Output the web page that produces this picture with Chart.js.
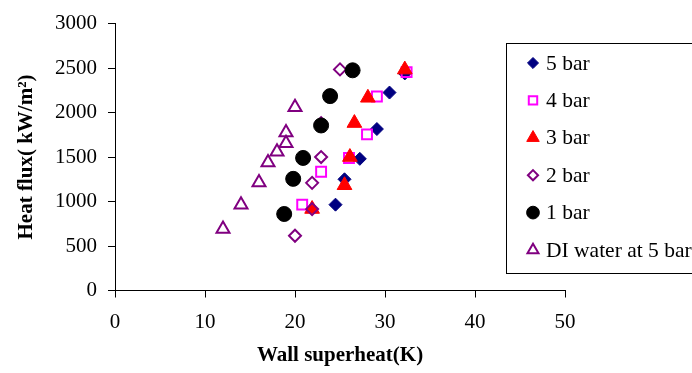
<!DOCTYPE html>
<html>
<head>
<meta charset="utf-8">
<script src="https://cdn.jsdelivr.net/npm/chart.js"></script>
<style>
  body { margin: 0; background: #fff; }
  canvas { display: block; }
</style>
</head>
<body>
<canvas id="chart" width="692" height="373"></canvas>
<script>
// Data (x = wall superheat K, y = heat flux kW/m2)
const seriesNames = ['5 bar', '4 bar', '3 bar', '2 bar', '1 bar', 'DI water at 5 bar'];

const superheat5bar = [24.5, 25.5, 27.2, 29.1, 30.5, 32.2];
const flux5bar = [965, 1250, 1480, 1815, 2225, 2440];

const superheat4bar = [20.8, 22.9, 26.0, 28.0, 29.1, 32.4];
const flux4bar = [965, 1335, 1490, 1755, 2180, 2455];

const superheat3bar = [21.9, 25.5, 26.1, 26.6, 28.1, 32.2];
const flux3bar = [916, 1183, 1500, 1882, 2166, 2483];

const superheat2bar = [20.0, 21.9, 21.9, 22.9, 22.9, 25.0];
const flux2bar = [615, 915, 1210, 1500, 1880, 2485];

const superheat1bar = [18.8, 19.8, 20.9, 22.9, 23.9, 26.4];
const flux1bar = [860, 1255, 1490, 1855, 2185, 2475];

const superheatDI = [12, 14, 16, 17, 18, 19, 19, 20];
const fluxDI = [690, 965, 1215, 1440, 1560, 1655, 1775, 2060];

const xTicks = [0, 10, 20, 30, 40, 50];
const yTicks = [0, 500, 1000, 1500, 2000, 2500, 3000];

function toPoints(xs, ys) {
    return xs.map((x, i) => ({ x: x, y: ys[i] }));
}

// marker styles, one per series
const markers = [
    { pointStyle: 'rectRot', radius: 6.5, bg: '#000080', border: '#000080', bw: 1 },
    { pointStyle: 'rect', radius: 7, bg: 'rgba(0,0,0,0)', border: '#FF00FF', bw: 2 },
    { pointStyle: 'triangle', radius: 8.5, bg: '#FF0000', border: '#FF0000', bw: 1 },
    { pointStyle: 'rectRot', radius: 6, bg: 'rgba(0,0,0,0)', border: '#800080', bw: 2 },
    { pointStyle: 'circle', radius: 7.5, bg: '#000000', border: '#000000', bw: 1 },
    { pointStyle: 'triangle', radius: 7.5, bg: 'rgba(0,0,0,0)', border: '#800080', bw: 2 }
];

const seriesData = [
    toPoints(superheat5bar, flux5bar),
    toPoints(superheat4bar, flux4bar),
    toPoints(superheat3bar, flux3bar),
    toPoints(superheat2bar, flux2bar),
    toPoints(superheat1bar, flux1bar),
    toPoints(superheatDI, fluxDI)
];

const datasets = seriesNames.map((name, i) => ({
    label: name,
    data: seriesData[i],
    pointStyle: markers[i].pointStyle,
    pointRadius: markers[i].radius,
    pointBackgroundColor: markers[i].bg,
    pointBorderColor: markers[i].border,
    pointBorderWidth: markers[i].bw,
    showLine: false,
    // later series drawn on top, like the original
    order: seriesNames.length - i
}));

const serif = "'Liberation Serif', 'Times New Roman', serif";

// boxed legend on the right, cut by the canvas edge
const boxLegend = {
    id: 'boxLegend',
    afterDraw(chart) {
        const ctx = chart.ctx;
        ctx.save();
        ctx.strokeStyle = '#000';
        ctx.lineWidth = 1;
        ctx.strokeRect(506.5, 43.5, 220, 230);
        ctx.font = '21.5px ' + serif;
        ctx.textBaseline = 'middle';
        ctx.textAlign = 'left';
        seriesNames.forEach((name, i) => {
            const y = 63 + i * 37.4;
            const m = markers[i];
            ctx.fillStyle = m.bg;
            ctx.strokeStyle = m.border;
            ctx.lineWidth = m.bw;
            Chart.helpers.drawPoint(ctx, {
                pointStyle: m.pointStyle,
                radius: m.radius * 0.85,
                rotation: 0,
                borderWidth: m.bw
            }, 533, y);
            ctx.fillStyle = '#000';
            ctx.fillText(name, 546, y + 1);
        });
        ctx.restore();
    }
};

new Chart(document.getElementById('chart'), {
    type: 'scatter',
    data: { datasets: datasets },
    options: {
        responsive: false,
        devicePixelRatio: 1,
        animation: false,
        layout: { padding: { top: 16, right: 127, left: 0, bottom: 0 } },
        plugins: {
            legend: { display: false },
            tooltip: { enabled: false }
        },
        scales: {
            x: {
                type: 'linear',
                min: 0,
                max: 50,
                afterFit(scale) { scale.height = 82.5; },
                afterBuildTicks(scale) { scale.ticks = xTicks.map(v => ({ value: v })); },
                grid: { drawOnChartArea: false, drawTicks: true, tickLength: 7, color: '#000' },
                border: { display: true, color: '#000', width: 1 },
                ticks: {
                    color: '#000',
                    font: { family: serif, size: 21 },
                    padding: 12,
                    maxRotation: 0,
                    callback: v => String(v)
                },
                title: {
                    display: true,
                    text: 'Wall superheat(K)',
                    color: '#000',
                    font: { family: serif, size: 21, weight: 'bold' },
                    padding: { top: 0, bottom: 5 }
                }
            },
            y: {
                type: 'linear',
                min: 0,
                max: 3000,
                afterFit(scale) { scale.width = 115; },
                afterBuildTicks(scale) { scale.ticks = yTicks.map(v => ({ value: v })); },
                grid: { drawOnChartArea: false, drawTicks: true, tickLength: 7, color: '#000' },
                border: { display: true, color: '#000', width: 1 },
                ticks: {
                    color: '#000',
                    font: { family: serif, size: 21 },
                    padding: 11,
                    callback: v => String(v)
                },
                title: {
                    display: true,
                    text: 'Heat flux( kW/m²)',
                    color: '#000',
                    font: { family: serif, size: 21, weight: 'bold' },
                    padding: { top: 14, bottom: 0 }
                }
            }
        }
    },
    plugins: [boxLegend]
});
</script>
</body>
</html>
